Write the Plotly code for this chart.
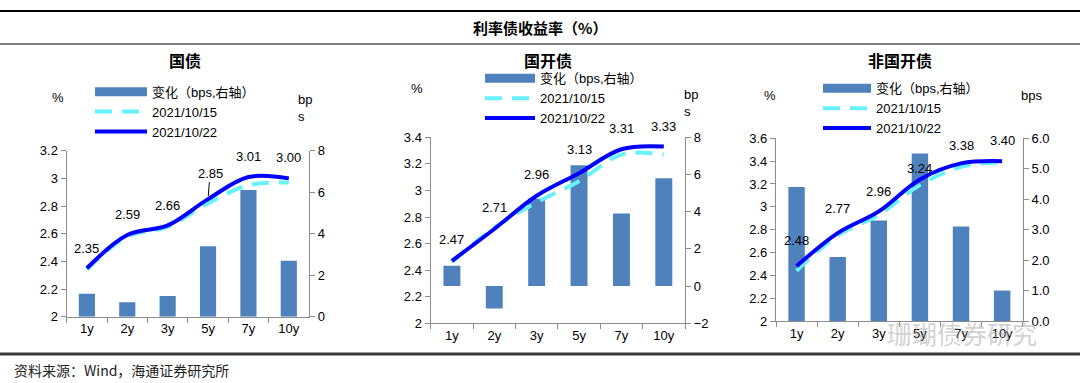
import plotly.graph_objects as go

W, H = 1080, 383

tenors = ["1y", "2y", "3y", "5y", "7y", "10y"]

# 国债
gz_1015 = [2.34, 2.58, 2.65, 2.82, 2.95, 2.97]
gz_1022 = [2.35, 2.59, 2.66, 2.85, 3.01, 3.00]
gz_chg = [1.1, 0.7, 1.0, 3.4, 6.1, 2.7]

# 国开债
gk_1015 = [2.46, 2.72, 2.91, 3.07, 3.27, 3.27]
gk_1022 = [2.47, 2.71, 2.96, 3.13, 3.31, 3.33]
gk_chg = [1.1, -1.2, 4.7, 6.5, 3.9, 5.8]

# 非国开债
fgk_1015 = [2.44, 2.75, 2.93, 3.19, 3.35, 3.39]
fgk_1022 = [2.48, 2.77, 2.96, 3.24, 3.38, 3.40]
fgk_chg = [4.4, 2.1, 3.3, 5.5, 3.1, 1.0]

panel_titles = ["国债", "国开债", "非国开债"]
series_names = ["变化（bps,右轴）", "2021/10/15", "2021/10/22"]
main_title = "利率债收益率（%）"
source_text = "资料来源：Wind，海通证券研究所"
watermark = "珊瑚债券研究"

BAR_C = "#4F81BD"
DASH_C = "#66F2FF"
SOLID_C = "#0000FF"
AX_C = "#8C8C8C"
FONT = "Liberation Sans, Arial, Noto Sans CJK SC"
CJK = "Noto Sans CJK SC, Liberation Sans"


def px(x):
    return x / W


def py(y):
    return 1 - y / H


panels = [
    dict(d15=gz_1015, d22=gz_1022, chg=gz_chg,
         box=(66.7, 150.7, 309.0, 316.7), pct=(2, 3.2), bps=(0, 8), bdt=2, bfmt="",
         shifts=[20, 21, 20, 26, 20, 21], arrow_idx=3,
         leg=(95, 111.7, 52), unit_r="bp<br>s", unit_r_pos=(296, 107.5), pct_pos=(58, 97),
         title_pos=(185, 60)),
    dict(d15=gk_1015, d22=gk_1022, chg=gk_chg,
         box=(430.7, 137.3, 685.0, 323.3), pct=(2, 3.4), bps=(-2, 8), bdt=2, bfmt="",
         shifts=[21, 21, 21, 24, 21, 20], arrow_idx=None,
         leg=(485, 98.3, 50), unit_r="bp<br>s", unit_r_pos=(682, 103.5), pct_pos=(417, 89),
         title_pos=(548, 60)),
    dict(d15=fgk_1015, d22=fgk_1022, chg=fgk_chg,
         box=(776.0, 138.3, 1022.7, 321.0), pct=(2, 3.6), bps=(0, 6), bdt=1, bfmt=".1f",
         shifts=[26, 25, 20, 11, 18, 21], arrow_idx=None,
         leg=(823, 108.3, 48), unit_r="bps", unit_r_pos=(1019, 95), pct_pos=(770, 95),
         title_pos=(900, 60)),
]

fig = go.Figure()
layout = dict(
    width=W, height=H, margin=dict(l=0, r=0, t=0, b=0, pad=0, autoexpand=False),
    paper_bgcolor="white", plot_bgcolor="white",
    font=dict(family=FONT, size=13, color="black"),
    showlegend=True,
)
annotations = []
shapes = []

for i, p in enumerate(panels):
    k = i + 1
    xa = "x" if k == 1 else f"x{k}"
    yb_n = 2 * k - 1
    yp_n = 2 * k
    yb = "y" if yb_n == 1 else f"y{yb_n}"
    yp = f"y{yp_n}"
    leg_name = "legend" if k == 1 else f"legend{k}"

    x0, y0, x1, y1 = p["box"]
    xdom = [px(x0), px(x1)]
    ydom = [py(y1), py(y0)]

    # bars (bps, right axis, base)
    fig.add_trace(go.Bar(x=tenors, y=p["chg"], marker=dict(color=BAR_C, line=dict(width=0)),
                         width=0.4, xaxis=xa, yaxis=yb, showlegend=False,
                         name=series_names[0]))
    # legend proxy for bars
    fig.add_trace(go.Scatter(x=[None], y=[None], mode="lines",
                             line=dict(color=BAR_C, width=9),
                             name=series_names[0], xaxis=xa, yaxis=yb,
                             legend=leg_name))
    fig.add_trace(go.Scatter(x=tenors, y=p["d15"], mode="lines",
                             line=dict(color=DASH_C, width=4, dash="17px,10px", shape="spline", smoothing=1),
                             name=series_names[1], xaxis=xa, yaxis=yp, legend=leg_name))
    fig.add_trace(go.Scatter(x=tenors, y=p["d22"], mode="lines",
                             line=dict(color=SOLID_C, width=4, shape="spline", smoothing=1),
                             name=series_names[2], xaxis=xa, yaxis=yp, legend=leg_name))

    xkey = "xaxis" if k == 1 else f"xaxis{k}"
    ybkey = "yaxis" if yb_n == 1 else f"yaxis{yb_n}"
    ypkey = f"yaxis{yp_n}"

    common = dict(showline=True, linecolor=AX_C, linewidth=1.3,
                  ticks="outside", ticklen=5, tickcolor=AX_C,
                  showgrid=False, zeroline=False, automargin=False,
                  tickfont=dict(family=FONT, size=13, color="black"))
    layout[xkey] = dict(domain=xdom, anchor=yb, type="category", categoryorder="array",
                        categoryarray=tenors, range=[-0.5, 5.5], tickson="boundaries", **common)
    layout[ybkey] = dict(domain=ydom, anchor=xa, side="right", range=list(p["bps"]),
                         dtick=p["bdt"], tick0=0, tickformat=p["bfmt"], **common)
    layout[ypkey] = dict(overlaying=yb, anchor=xa, side="left", range=list(p["pct"]),
                         dtick=0.2, tick0=2, **common)

    lx, ly, lw = p["leg"]
    layout[leg_name] = dict(x=px(lx - 5), xanchor="left", y=py(ly), yanchor="middle",
                            itemwidth=lw, bgcolor="rgba(0,0,0,0)", borderwidth=0,
                            font=dict(family=FONT, size=13, color="black"),
                            traceorder="normal", tracegroupgap=0)

    # data labels
    for j, (t, v) in enumerate(zip(tenors, p["d22"])):
        if p["arrow_idx"] == j:
            annotations.append(dict(x=t, y=v, xref=xa, yref=yp, text=f"{v:.2f}",
                                    showarrow=True, arrowhead=0, arrowwidth=1,
                                    arrowcolor="black", ax=2, ay=-p["shifts"][j],
                                    standoff=3, font=dict(family=FONT, size=13, color="black")))
        else:
            annotations.append(dict(x=t, y=v, xref=xa, yref=yp, text=f"{v:.2f}",
                                    showarrow=False, yshift=p["shifts"][j],
                                    xanchor="center", yanchor="middle",
                                    font=dict(family=FONT, size=13, color="black")))

    # titles and units
    tx, ty = p["title_pos"]
    annotations.append(dict(x=px(tx), y=py(ty), xref="paper", yref="paper",
                            xanchor="center", yanchor="middle",
                            text=f"<b>{panel_titles[i]}</b>", showarrow=False,
                            font=dict(family=CJK, size=16, color="black")))
    ux, uy = p["pct_pos"]
    annotations.append(dict(x=px(ux), y=py(uy), xref="paper", yref="paper", text="%",
                            xanchor="center", yanchor="middle",
                            showarrow=False, font=dict(family=FONT, size=13, color="black")))
    rx, ry = p["unit_r_pos"]
    annotations.append(dict(x=px(rx), y=py(ry), xref="paper", yref="paper", text=p["unit_r"],
                            showarrow=False, align="left", xanchor="left", yanchor="middle",
                            font=dict(family=FONT, size=13, color="black")))

# main title, frame lines, source, watermark
annotations.append(dict(x=0.5, y=py(27), xref="paper", yref="paper",
                        xanchor="center", yanchor="middle",
                        text=f"<b>{main_title}</b>", showarrow=False,
                        font=dict(family=CJK, size=15, color="black")))
annotations.append(dict(x=px(12), y=py(370), xref="paper", yref="paper",
                        xanchor="left", yanchor="middle",
                        text=source_text, showarrow=False,
                        font=dict(family=CJK, size=14, color="#222222")))
annotations.append(dict(x=px(962), y=py(333), xref="paper", yref="paper",
                        xanchor="center", yanchor="middle",
                        text=watermark, showarrow=False,
                        font=dict(family=CJK, size=25, color="rgba(165,165,165,0.5)")))

shapes.append(dict(type="line", xref="paper", yref="paper", x0=0, x1=1, y0=py(11), y1=py(11),
                   line=dict(color="black", width=2)))
shapes.append(dict(type="line", xref="paper", yref="paper", x0=0, x1=1, y0=py(44), y1=py(44),
                   line=dict(color="#555555", width=1.5)))
shapes.append(dict(type="line", xref="paper", yref="paper", x0=0, x1=1, y0=py(354), y1=py(354),
                   line=dict(color="#3a3a3a", width=3)))

layout["annotations"] = annotations
layout["shapes"] = shapes
fig.update_layout(**layout)

fig.write_html("out.html", config={"displayModeBar": False},
               post_script="document.body.style.margin='0';")
